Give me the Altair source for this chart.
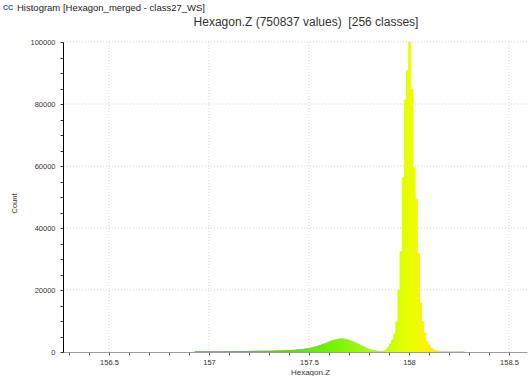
import altair as alt
import pandas as pd

# Histogram bins (256 classes over the Z range, only the populated part listed)
BIN_LO = 156.9285
BIN_W = 0.0107

tail_counts = [15, 15, 16, 17, 18, 20, 21, 22, 24, 27,
               30, 34, 40, 46, 54, 62, 72, 84, 96, 110,
               125, 140, 155, 170, 185, 200, 215, 230, 245, 260,
               270, 280, 290, 300, 310, 320, 335, 350, 365, 380]
hump_counts = [400, 425, 450, 480, 510, 550, 600, 660, 720, 790,
               870, 960, 1060, 1180, 1320, 1480, 1660, 1860, 2080, 2320,
               2580, 2850, 3120, 3400, 3650, 3880, 4050, 4180, 4250, 4200,
               4080, 3900, 3680, 3420, 3120, 2800, 2460, 2120, 1780, 1460,
               1160, 900, 690, 520, 380, 270, 190]
peak_counts = [200, 300, 700, 1500, 2580, 3870, 5800, 9770, 20000, 32300,
               56200, 81300, 90700, 99900, 84800, 59500, 49300, 31900, 15800, 9770,
               6100, 3300, 2260, 1290, 700, 450, 300, 200, 150, 110,
               80, 60, 45, 35, 28, 22, 18, 15, 12]

counts = tail_counts + hump_counts + peak_counts
starts = [BIN_LO + i * BIN_W for i in range(len(counts))]
df = pd.DataFrame({
    "start": starts,
    "end": [s + BIN_W for s in starts],
    "mid": [s + BIN_W / 2 for s in starts],
    "count": counts,
})

x_ticks = [round(156.3 + 0.1 * i, 1) for i in range(23)]
y_ticks = list(range(0, 100001, 5000))
x_grid = [156.5, 157.0, 157.5, 158.0, 158.5]
y_grid = [20000, 40000, 60000, 80000, 100000]

color_domain = [157.0, 157.4, 157.65, 157.85, 158.0, 158.1, 158.25]
color_range = ["#3fbf00", "#55e000", "#7af500", "#b4ff00", "#e8ff00", "#fff200", "#ffd400"]

window_title = "Histogram [Hexagon_merged - class27_WS]"
chart_title = "Hexagon.Z (750837 values) \u00a0[256 classes]"

FONT = "Liberation Sans"
major_x = "abs(datum.value*2 - round(datum.value*2)) < 0.001"

x_scale = alt.Scale(domain=[156.27, 158.59], nice=False, zero=False)
y_scale = alt.Scale(domain=[0, 100000], nice=False)

x_axis = alt.Axis(
    values=x_ticks, grid=False,
    labelExpr=major_x + " ? toString(round(datum.value*2)/2) : ''",
    domainColor="#9c9c9c", tickColor="#555555", tickSize=3,
    labelFont=FONT, labelFontSize=7.5, labelColor="#333333",
    labelPadding=3, labelFlush=False,
    title="Hexagon.Z", titleFont=FONT, titleFontSize=8,
    titleFontWeight="normal", titleColor="#333333",
    titleBaseline="middle", titleX=247, titleY=20,
)
y_axis = alt.Axis(
    values=y_ticks, grid=False,
    labelExpr="datum.value % 20000 == 0 ? toString(datum.value) : ''",
    domainColor="#000000", tickColor="#333333", tickSize=3,
    labelFont=FONT, labelFontSize=7.5, labelColor="#333333",
    labelPadding=5, labelFlush=False,
    title="Count", titleFont=FONT, titleFontSize=7.5,
    titleFontWeight="normal", titleColor="#333333",
    titleX=-49, titleY=161, titleBaseline="middle", titleAngle=270,
)

grid_x = alt.Chart(pd.DataFrame({"v": x_grid})).mark_rule(
    color="#d4d4d4", strokeDash=[1, 2], strokeWidth=1
).encode(x=alt.X("v:Q", scale=x_scale, axis=x_axis, title="Hexagon.Z"))

grid_y = alt.Chart(pd.DataFrame({"v": y_grid})).mark_rule(
    color="#d4d4d4", strokeDash=[1, 2], strokeWidth=1
).encode(y=alt.Y("v:Q", scale=y_scale, axis=y_axis, title="Count"))

bars = alt.Chart(df).mark_rect(clip=True, strokeWidth=1).encode(
    x=alt.X("start:Q", scale=x_scale, axis=x_axis, title="Hexagon.Z"),
    x2="end:Q",
    y=alt.Y("count:Q", scale=y_scale, axis=y_axis, title="Count"),
    y2=alt.datum(0),
    color=alt.Color("mid:Q", scale=alt.Scale(domain=color_domain, range=color_range), legend=None),
    stroke=alt.Stroke("mid:Q", scale=alt.Scale(domain=color_domain, range=color_range), legend=None),
)

icon = alt.Chart(pd.DataFrame({"t": ["CC"]})).mark_text(
    font=FONT, fontSize=7, fontWeight="bold", color="#2b5f9e", align="center", baseline="middle"
).encode(x=alt.value(-55), y=alt.value(-34), text="t:N")

wtitle = alt.Chart(pd.DataFrame({"t": [window_title]})).mark_text(
    font=FONT, fontSize=9.5, color="#222222", align="left", baseline="middle"
).encode(x=alt.value(-46), y=alt.value(-34), text="t:N")

ctitle = alt.Chart(pd.DataFrame({"t": [chart_title]})).mark_text(
    font=FONT, fontSize=12, color="#333333", align="center", baseline="middle"
).encode(x=alt.value(243), y=alt.value(-20), text="t:N")

chart = alt.layer(grid_x, grid_y, bars, icon, wtitle, ctitle).properties(
    width=464, height=310,
    padding={"left": 63, "top": 42, "right": 2, "bottom": 24},
    autosize="none",
).configure_view(strokeOpacity=0)

chart.save("out.html", embed_options={"renderer": "svg", "actions": False})
